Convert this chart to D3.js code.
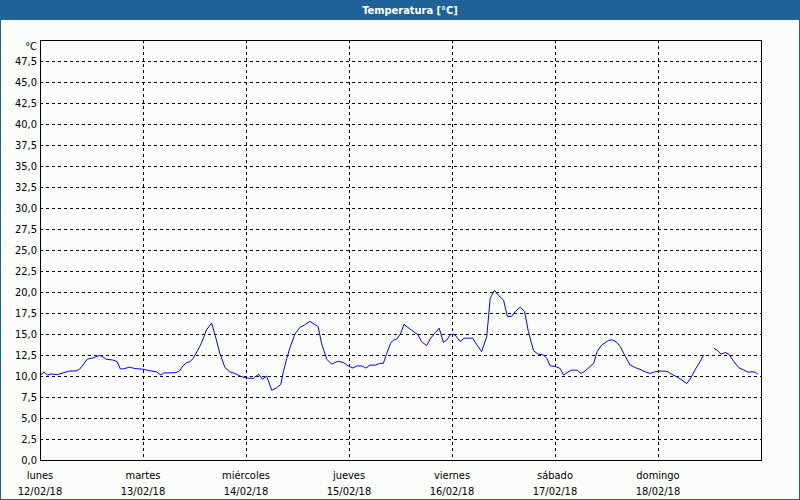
<!DOCTYPE html>
<html><head><meta charset="utf-8">
<script src="https://cdn.jsdelivr.net/npm/d3@7"></script>
<style>
html,body{margin:0;padding:0;background:#fbfdfb;}
svg{display:block;}
text{font-family:"DejaVu Sans Condensed","DejaVu Sans",sans-serif;font-size:11px;fill:#000;}
</style></head>
<body>
<svg id="c" width="800" height="500"></svg>
<script>
const title = "Temperatura [°C]";
const unitLabel = "°C";
const dayNames = ["lunes","martes","miércoles","jueves","viernes","sábado","domingo"];
const dayDates = ["12/02/18","13/02/18","14/02/18","15/02/18","16/02/18","17/02/18","18/02/18"];
const yTicks = [0,2.5,5,7.5,10,12.5,15,17.5,20,22.5,25,27.5,30,32.5,35,37.5,40,42.5,45,47.5];
// hours since Monday 00:00
const hours = [0,0.9,1.8,2.6,4.1,4.9,6.9,8.4,9.2,10.0,11.0,12.3,13.9,14.6,15.4,17.0,18.0,18.7,19.5,20.8,22.0,24.0,25.9,27.1,28.2,28.8,31.7,32.5,33.3,34.2,
 34.9,35.7,36.8,37.6,38.8,40.0,41.1,41.9,43.1,44.2,45.4,46.6,47.7,49.7,50.1,51.0,51.8,52.8,54.0,55.1,56.1,56.7,57.5,58.2,59.4,60.6,61.7,62.9,64.1,64.8,65.6,66.8,68.0,68.7,
 69.5,70.7,71.8,72.9,73.8,75.0,75.9,76.9,78.1,79.1,80.0,80.8,81.7,82.3,83.1,84.0,84.8,86.2,87.4,88.1,88.9,90.1,90.9,92.0,93.0,94.0,94.8,95.7,96.7,97.9,98.8,99.8,100.8,101.8,102.5,
 102.9,104.1,104.9,105.9,106.8,108.0,108.9,109.9,110.7,111.9,112.9,113.8,115.0,116.1,117.3,118.1,118.9,120.0,121.2,122.0,122.8,123.9,125.1,126.1,127.0,129.0,129.8,130.9,132.5,133.4,134.4,135.2,136.2,
 137.5,138.7,139.8,141.0,142.2,143.2,144.5,146.1,147.2,148.4,149.6,150.7,151.7,152.7,153.8,154.6,155.8,
 157.0,157.7,158.7,159.7,160.5,161.7,162.8,164.0,165.0,165.9,166.7,167.3];
const temps = [10.0,10.5,10.1,10.25,10.15,10.3,10.6,10.6,10.8,11.3,12.0,12.15,12.45,12.3,12.0,11.9,11.7,10.85,10.85,11.05,10.9,10.8,10.6,10.5,10.1,10.35,10.4,10.6,11.2,11.6,
 11.7,12.1,13.1,13.9,15.5,16.3,14.3,12.7,11.0,10.5,10.3,10.0,9.8,9.7,9.9,10.2,9.6,10.0,8.3,8.6,9.0,10.5,12.1,13.3,15.0,15.8,16.1,16.5,16.1,15.9,13.9,12.0,11.4,11.6,
 11.75,11.6,11.2,10.95,11.2,11.2,10.95,11.3,11.3,11.5,11.5,12.7,13.9,14.25,14.4,15.0,16.15,15.6,15.15,14.9,14.1,13.6,14.4,15.1,15.7,14.0,14.3,15.0,14.9,14.1,14.5,14.5,14.5,13.7,13.2,
 12.9,14.7,19.25,20.2,19.6,19.05,17.1,17.1,17.65,18.2,17.7,15.3,13.0,12.6,12.5,12.1,11.2,11.15,10.9,10.1,10.4,10.7,10.7,10.3,10.6,11.5,12.9,13.7,14.25,14.3,14.0,13.5,12.5,
 11.3,11.0,10.8,10.5,10.3,10.5,10.6,10.55,10.2,9.9,9.5,9.1,9.8,10.8,11.7,12.5,null,
 13.3,13.1,12.6,12.8,12.6,11.7,11.0,10.7,10.45,10.5,10.45,10.2];

const svg = d3.select("#c");
const W = 800, H = 500;
const m = {left:40, right:761, top:40, bottom:460};
const x = d3.scaleLinear().domain([0,168]).range([m.left, m.right]);
const y = d3.scaleLinear().domain([0,50]).range([m.bottom, m.top]);
const blue = "#1e6299";

// frame
svg.append("rect").attr("x",0).attr("y",0).attr("width",W).attr("height",H).attr("fill","#fbfdfb");
svg.append("rect").attr("x",0.5).attr("y",0.5).attr("width",W-1).attr("height",H-1).attr("fill","none").attr("stroke",blue);
svg.append("rect").attr("x",0).attr("y",0).attr("width",W).attr("height",20).attr("fill",blue);
svg.append("text").attr("x",410).attr("y",14).attr("text-anchor","middle")
  .style("font-weight","bold").style("fill","#fff").text(title);

// grid
const g = svg.append("g");
g.selectAll("line.h").data(yTicks.filter(d=>d>0)).join("line")
  .attr("x1",m.left).attr("x2",m.right)
  .attr("y1",d=>Math.round(y(d))+0.5).attr("y2",d=>Math.round(y(d))+0.5)
  .attr("stroke","#000").attr("stroke-dasharray","3,3").attr("shape-rendering","crispEdges");
g.selectAll("line.v").data(d3.range(1,7)).join("line")
  .attr("x1",d=>Math.round(x(d*24))+0.5).attr("x2",d=>Math.round(x(d*24))+0.5)
  .attr("y1",m.top).attr("y2",m.bottom)
  .attr("stroke","#000").attr("stroke-dasharray","3,3").attr("shape-rendering","crispEdges");

// plot border
svg.append("rect").attr("x",m.left+0.5).attr("y",m.top+0.5)
  .attr("width",m.right-m.left).attr("height",m.bottom-m.top)
  .attr("fill","none").attr("stroke","#000").attr("shape-rendering","crispEdges");

// y labels
const fmt = d => d3.format(".1f")(d).replace(".",",");
svg.selectAll("text.yl").data(yTicks).join("text")
  .attr("x",37).attr("y",d=>y(d)+4).attr("text-anchor","end").text(fmt);
svg.append("text").attr("x",37).attr("y",50).attr("text-anchor","end").text(unitLabel);

// x labels
svg.selectAll("text.xd").data(dayNames).join("text")
  .attr("x",(d,i)=>x(i*24)).attr("y",479).attr("text-anchor","middle").text(d=>d);
svg.selectAll("text.xt").data(dayDates).join("text")
  .attr("x",(d,i)=>x(i*24)).attr("y",495).attr("text-anchor","middle").text(d=>d);

// line
const pts = hours.map((h,i)=>({h, v:temps[i]}));
const line = d3.line().defined(d=>d.v!==null).x(d=>x(d.h)).y(d=>y(d.v));
svg.append("path").datum(pts).attr("d",line).attr("fill","none").attr("stroke","#0000ff").attr("stroke-width",1);
</script>
</body></html>
